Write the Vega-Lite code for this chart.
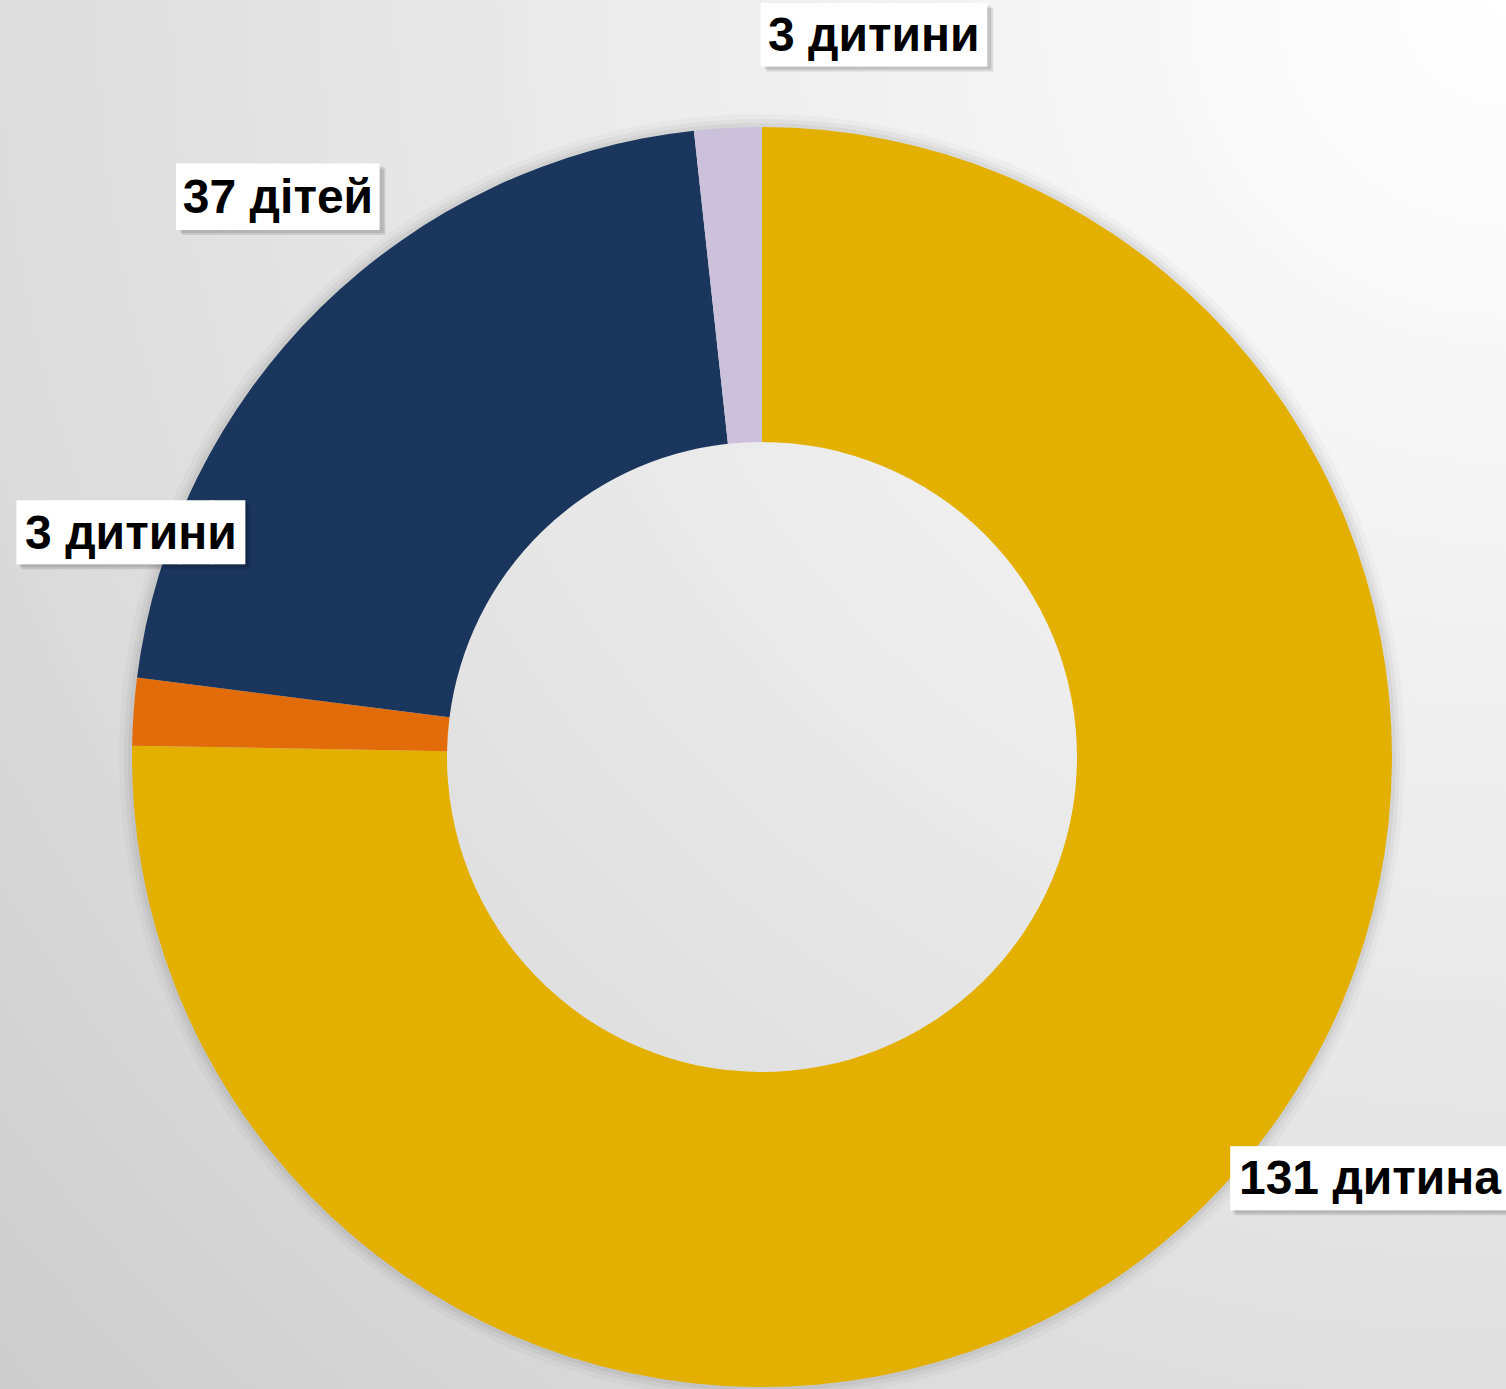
{
  "$schema": "https://vega.github.io/schema/vega-lite/v6.json",
  "width": 1524,
  "height": 1514,
  "autosize": {"type": "none"},
  "padding": {"left": 0, "top": 0, "right": -18, "bottom": -125},
  "background": "#e2e2e2",
  "config": {
    "view": {"stroke": null},
    "text": {"font": "Liberation Sans"}
  },
  "data": {
    "values": [
      {"group": "g1", "value": 131, "label": "131 дитина"},
      {"group": "g2", "value": 3, "label": "3 дитини"},
      {"group": "g3", "value": 37, "label": "37 дітей"},
      {"group": "g4", "value": 3, "label": "3 дитини"}
    ]
  },
  "encoding": {
    "theta": {"field": "value", "type": "quantitative", "stack": true},
    "order": {"field": "group", "type": "nominal"}
  },
  "layer": [
    {
      "mark": {
        "type": "rect",
        "fill": {
          "gradient": "radial",
          "x1": 0.99, "y1": 0.0, "r1": 0,
          "x2": 0.99, "y2": 0.0, "r2": 1.42,
          "stops": [
            {"offset": 0, "color": "#ffffff"},
            {"offset": 0.2, "color": "#f6f6f6"},
            {"offset": 0.5, "color": "#e7e7e7"},
            {"offset": 0.72, "color": "#dbdbdb"},
            {"offset": 1, "color": "#c9c9c9"}
          ]
        }
      },
      "encoding": {"theta": null, "order": null}
    },
    {"mark": {"type": "arc", "outerRadius": 643, "innerRadius": 600, "fill": "#000000", "opacity": 0.025}},
    {"mark": {"type": "arc", "outerRadius": 638, "innerRadius": 600, "fill": "#000000", "opacity": 0.035}},
    {"mark": {"type": "arc", "outerRadius": 634, "innerRadius": 600, "fill": "#000000", "opacity": 0.045}},
    {
      "mark": {"type": "arc", "outerRadius": 630, "innerRadius": 315},
      "encoding": {
        "color": {
          "field": "group", "type": "nominal", "legend": null,
          "scale": {"domain": ["g1", "g2", "g3", "g4"], "range": ["#E4B000", "#E36C0A", "#1A365D", "#CCC1DA"]}
        }
      }
    },

    {"mark": {"type": "text", "radius": 725, "dx": 157, "dy": 9, "font": "DejaVu Sans Mono", "fontSize": 53.5, "fill": "#000000", "opacity": 0.1, "align": "center", "baseline": "middle"},
     "encoding": {"text": {"condition": {"test": "datum.group === 'g4'", "value": "███████"}, "value": ""}}},
    {"mark": {"type": "text", "radius": 725, "dx": 155, "dy": 7, "font": "DejaVu Sans Mono", "fontSize": 53.5, "fill": "#000000", "opacity": 0.1, "align": "center", "baseline": "middle"},
     "encoding": {"text": {"condition": {"test": "datum.group === 'g4'", "value": "███████"}, "value": ""}}},
    {"mark": {"type": "text", "radius": 725, "dx": 151, "dy": 4, "font": "DejaVu Sans Mono", "fontSize": 53.5, "fill": "#ffffff", "align": "center", "baseline": "middle"},
     "encoding": {"text": {"condition": {"test": "datum.group === 'g4'", "value": "███████"}, "value": ""}}},
    {"mark": {"type": "text", "radius": 725, "dx": 151, "dy": 4, "fontSize": 48, "fontWeight": "bold", "fill": "#000000", "align": "center", "baseline": "middle"},
     "encoding": {"text": {"condition": {"test": "datum.group === 'g4'", "field": "label"}, "value": ""}}},

    {"mark": {"type": "text", "radius": 725, "dx": 30, "dy": -36, "font": "DejaVu Sans Mono", "fontSize": 56, "fill": "#000000", "opacity": 0.1, "align": "center", "baseline": "middle"},
     "encoding": {"text": {"condition": {"test": "datum.group === 'g3'", "value": "██████"}, "value": ""}}},
    {"mark": {"type": "text", "radius": 725, "dx": 28, "dy": -38, "font": "DejaVu Sans Mono", "fontSize": 56, "fill": "#000000", "opacity": 0.1, "align": "center", "baseline": "middle"},
     "encoding": {"text": {"condition": {"test": "datum.group === 'g3'", "value": "██████"}, "value": ""}}},
    {"mark": {"type": "text", "radius": 725, "dx": 24, "dy": -41, "font": "DejaVu Sans Mono", "fontSize": 56, "fill": "#ffffff", "align": "center", "baseline": "middle"},
     "encoding": {"text": {"condition": {"test": "datum.group === 'g3'", "value": "██████"}, "value": ""}}},
    {"mark": {"type": "text", "radius": 725, "dx": 24, "dy": -41, "fontSize": 48, "fontWeight": "bold", "fill": "#000000", "align": "center", "baseline": "middle"},
     "encoding": {"text": {"condition": {"test": "datum.group === 'g3'", "field": "label"}, "value": ""}}},

    {"mark": {"type": "text", "radius": 725, "dx": 97, "dy": -165, "font": "DejaVu Sans Mono", "fontSize": 54, "fill": "#000000", "opacity": 0.1, "align": "center", "baseline": "middle"},
     "encoding": {"text": {"condition": {"test": "datum.group === 'g2'", "value": "███████"}, "value": ""}}},
    {"mark": {"type": "text", "radius": 725, "dx": 95, "dy": -167, "font": "DejaVu Sans Mono", "fontSize": 54, "fill": "#000000", "opacity": 0.1, "align": "center", "baseline": "middle"},
     "encoding": {"text": {"condition": {"test": "datum.group === 'g2'", "value": "███████"}, "value": ""}}},
    {"mark": {"type": "text", "radius": 725, "dx": 92, "dy": -170, "font": "DejaVu Sans Mono", "fontSize": 54, "fill": "#ffffff", "align": "center", "baseline": "middle"},
     "encoding": {"text": {"condition": {"test": "datum.group === 'g2'", "value": "███████"}, "value": ""}}},
    {"mark": {"type": "text", "radius": 725, "dx": 92, "dy": -170, "fontSize": 48, "fontWeight": "bold", "fill": "#000000", "align": "center", "baseline": "middle"},
     "encoding": {"text": {"condition": {"test": "datum.group === 'g2'", "field": "label"}, "value": ""}}},

    {"mark": {"type": "text", "radius": 725, "dx": 112, "dy": -88, "font": "DejaVu Sans Mono", "fontSize": 54, "fill": "#000000", "opacity": 0.1, "align": "center", "baseline": "middle"},
     "encoding": {"text": {"condition": {"test": "datum.group === 'g1'", "value": "█████████"}, "value": ""}}},
    {"mark": {"type": "text", "radius": 725, "dx": 110, "dy": -90, "font": "DejaVu Sans Mono", "fontSize": 54, "fill": "#000000", "opacity": 0.1, "align": "center", "baseline": "middle"},
     "encoding": {"text": {"condition": {"test": "datum.group === 'g1'", "value": "█████████"}, "value": ""}}},
    {"mark": {"type": "text", "radius": 725, "dx": 107, "dy": -93, "font": "DejaVu Sans Mono", "fontSize": 54, "fill": "#ffffff", "align": "center", "baseline": "middle"},
     "encoding": {"text": {"condition": {"test": "datum.group === 'g1'", "value": "█████████"}, "value": ""}}},
    {"mark": {"type": "text", "radius": 725, "dx": 100, "dy": -94, "fontSize": 48, "fontWeight": "bold", "fill": "#000000", "align": "center", "baseline": "middle"},
     "encoding": {"text": {"condition": {"test": "datum.group === 'g1'", "field": "label"}, "value": ""}}}
  ]
}
